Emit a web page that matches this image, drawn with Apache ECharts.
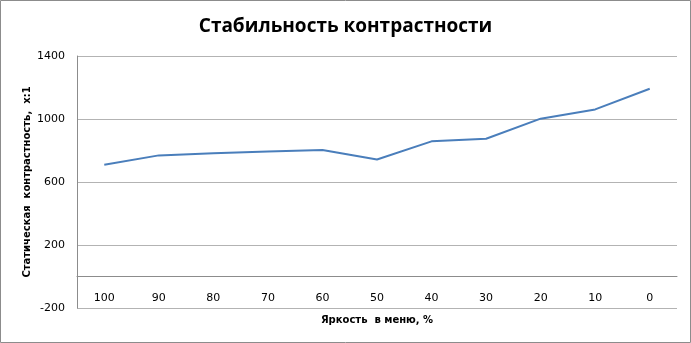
<!DOCTYPE html>
<html><head><meta charset="utf-8">
<script src="https://cdn.jsdelivr.net/npm/echarts@6/dist/echarts.min.js"></script>
<style>html,body{margin:0;padding:0;background:#fff}#c{width:691px;height:343px}</style>
</head><body><div id="c"></div>
<script>
const categories = ['100','90','80','70','60','50','40','30','20','10','0'];
const contrast = [710, 769, 782, 794, 803, 743, 858, 875, 1002, 1061, 1192];
const yTitle = 'Статическая  контрастность,  x:1';
const chart = echarts.init(document.getElementById('c'), null, {renderer:'canvas'});
chart.setOption({
  animation:false,
  graphic:[{type:'rect', shape:{x:0.5, y:0.5, width:690, height:342},
    style:{fill:null, stroke:'#8c8c8c', lineWidth:1}, silent:true},
    {type:'text', x:27, y:182, rotation:Math.PI/2, silent:true,
     style:{text:yTitle, fontFamily:'DejaVu Sans', fontWeight:'bold', fontSize:10, fill:'#000',
       align:'center', verticalAlign:'middle'}}],
  title:{text:'Стабильность контрастности', left:'center', top:12,
    textStyle:{fontFamily:'Open Sans', fontWeight:'bold', fontSize:19, color:'#000'}},
  grid:{left:77, right:14, top:56, bottom:35, containLabel:false, outerBoundsMode:'none'},
  xAxis:{type:'category', data:categories, boundaryGap:true,
    name:'Яркость  в меню, %', nameLocation:'middle', nameGap:7,
    nameTextStyle:{fontFamily:'DejaVu Sans', fontWeight:'bold', fontSize:10, color:'#000', verticalAlign:'top'},
    axisLine:{onZero:true, lineStyle:{color:'#8c8c8c'}}, axisTick:{show:false},
    axisLabel:{margin:-15, fontFamily:'DejaVu Sans', fontSize:11, color:'#000'}},
  yAxis:{type:'value', min:-200, max:1400, interval:400,
    axisLine:{show:true, lineStyle:{color:'#8c8c8c'}}, axisTick:{show:false},
    axisLabel:{margin:12, fontFamily:'DejaVu Sans', fontSize:11, color:'#000', formatter:v=>String(v)},
    splitLine:{lineStyle:{color:'#b3b3b3'}}},
  series:[{type:'line', data:contrast, symbol:'none',
    lineStyle:{color:'#4a7ebb', width:2}}]
});
</script></body></html>
